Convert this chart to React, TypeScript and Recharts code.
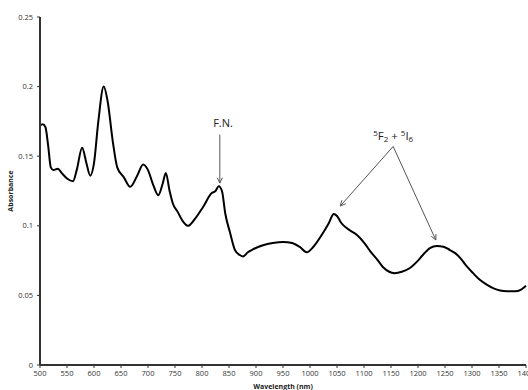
import React from 'react';
import { LineChart, Line, XAxis, YAxis, ReferenceLine, ReferenceDot, Label } from 'recharts';

const wavelengths = [
  500, 505, 510, 515, 520, 525, 533, 540, 550, 561, 568, 578, 586, 593, 600, 608, 618, 625, 635, 643,
  655, 667, 680, 691, 700, 710, 719, 727, 733, 740, 746, 755, 765, 774, 785, 802, 818, 825, 831, 837,
  843, 852, 861, 870, 876, 885, 894, 913, 931, 950, 967, 981, 994, 1006, 1024, 1035, 1044, 1050, 1058, 1069,
  1087, 1100, 1111, 1126, 1135, 1157, 1170, 1185, 1200, 1209, 1222, 1235, 1247, 1259, 1270, 1278, 1290, 1302, 1315, 1328,
  1340, 1352, 1365, 1380, 1390, 1400,
];

const absorbance = [
  0.172, 0.173, 0.171, 0.158, 0.142, 0.14, 0.141, 0.138, 0.134, 0.132, 0.14, 0.156, 0.145, 0.136, 0.145, 0.175, 0.2, 0.19, 0.16, 0.142,
  0.135, 0.128, 0.136, 0.144, 0.14, 0.129, 0.122, 0.13, 0.138, 0.125, 0.116, 0.11, 0.103, 0.1, 0.104, 0.1135, 0.1235, 0.125, 0.1285, 0.125,
  0.109, 0.095, 0.0826, 0.079, 0.078, 0.081, 0.083, 0.086, 0.0876, 0.0884, 0.0876, 0.0848, 0.081, 0.0848, 0.0948, 0.102, 0.1085, 0.107, 0.102, 0.098,
  0.0934, 0.088, 0.082, 0.075, 0.0704, 0.066, 0.067, 0.0697, 0.075, 0.079, 0.084, 0.0855, 0.085, 0.0826, 0.08, 0.077, 0.071, 0.066, 0.061, 0.0575,
  0.055, 0.0535, 0.053, 0.053, 0.054, 0.057,
];

const xTicks = [500, 550, 600, 650, 700, 750, 800, 850, 900, 950, 1000, 1050, 1100, 1150, 1200, 1250, 1300, 1350, 1400];
const yTicks = [0, 0.05, 0.1, 0.15, 0.2, 0.25];

const data = wavelengths.map((w, i) => ({ wavelength: w, absorbance: absorbance[i] }));

const font = '"Open Sans", "Liberation Sans", sans-serif';

// arrow with an open head at the (x2, y2) end
const Arrow = (props: any) => {
  const { x1, y1, x2, y2 } = props;
  const a = Math.atan2(y2 - y1, x2 - x1);
  const len = 6;
  const spread = 0.45;
  const hx1 = x2 - len * Math.cos(a - spread);
  const hy1 = y2 - len * Math.sin(a - spread);
  const hx2 = x2 - len * Math.cos(a + spread);
  const hy2 = y2 - len * Math.sin(a + spread);
  return (
    <g>
      <line x1={x1} y1={y1} x2={x2} y2={y2} stroke="#555" strokeWidth={1} />
      <polyline points={`${hx1},${hy1} ${x2},${y2} ${hx2},${hy2}`} fill="none" stroke="#555" strokeWidth={1} />
    </g>
  );
};

const FnText = (props: any) => (
  <text x={props.cx} y={props.cy} textAnchor="middle" dominantBaseline="central" fontSize={11} fontFamily={font} fill="#222">
    F.N.
  </text>
);

const TransitionText = (props: any) => (
  <text x={props.cx} y={props.cy} textAnchor="middle" dominantBaseline="central" fontSize={11.5} fontFamily={font} fill="#222">
    <tspan fontSize={8} dy={-3}>5</tspan>
    <tspan dy={3}>F</tspan>
    <tspan fontSize={8} dy={3}>2</tspan>
    <tspan dy={-3}> + </tspan>
    <tspan fontSize={8} dy={-3}>5</tspan>
    <tspan dy={3}>I</tspan>
    <tspan fontSize={8} dy={3}>6</tspan>
  </text>
);

const App: React.FC = () => {
  return (
    <div style={{ position: 'absolute', left: 0, top: 0, width: 528, height: 390, background: '#fff' }}>
      <LineChart width={528} height={390} data={data} margin={{ top: 17, right: 2, bottom: 0, left: 10 }}>
        <XAxis
          dataKey="wavelength"
          type="number"
          domain={[500, 1400]}
          ticks={xTicks}
          interval={0}
          height={25}
          tickSize={3}
          tickMargin={3}
          axisLine={{ stroke: '#333', strokeWidth: 2 }}
          tickLine={{ stroke: '#333' }}
          tick={{ fill: '#333', fontSize: 7.5, fontFamily: font }}
        >
          <Label
            content={(p: any) => (
              <text
                x={p.viewBox.x + p.viewBox.width / 2}
                y={389}
                textAnchor="middle"
                fontSize={7}
                fontWeight="bold"
                fontFamily={font}
                fill="#222"
              >
                Wavelength (nm)
              </text>
            )}
          />
        </XAxis>
        <YAxis
          type="number"
          domain={[0, 0.25]}
          ticks={yTicks}
          width={30}
          tickSize={3}
          tickMargin={4}
          axisLine={{ stroke: '#333', strokeWidth: 2 }}
          tickLine={{ stroke: '#333' }}
          tick={{ fill: '#333', fontSize: 7.5, fontFamily: font }}
        >
          <Label
            content={(p: any) => (
              <text
                x={10}
                y={p.viewBox.y + p.viewBox.height / 2}
                transform={`rotate(-90, 10, ${p.viewBox.y + p.viewBox.height / 2})`}
                textAnchor="middle"
                dominantBaseline="central"
                fontSize={7}
                fontWeight="bold"
                fontFamily={font}
                fill="#222"
              >
                Absorbance
              </text>
            )}
          />
        </YAxis>
        <Line
          type="monotone"
          dataKey="absorbance"
          stroke="#000"
          strokeWidth={2}
          dot={false}
          activeDot={false}
          isAnimationActive={false}
        />
        <ReferenceDot x={839} y={0.1739} r={0} shape={FnText} />
        <ReferenceLine segment={[{ x: 833, y: 0.1655 }, { x: 833, y: 0.1307 }]} shape={Arrow} />
        <ReferenceDot x={1154} y={0.165} r={0} shape={TransitionText} />
        <ReferenceLine segment={[{ x: 1154, y: 0.157 }, { x: 1056, y: 0.1142 }]} shape={Arrow} />
        <ReferenceLine segment={[{ x: 1154, y: 0.157 }, { x: 1233, y: 0.0898 }]} shape={Arrow} />
      </LineChart>
    </div>
  );
};

export default App;
